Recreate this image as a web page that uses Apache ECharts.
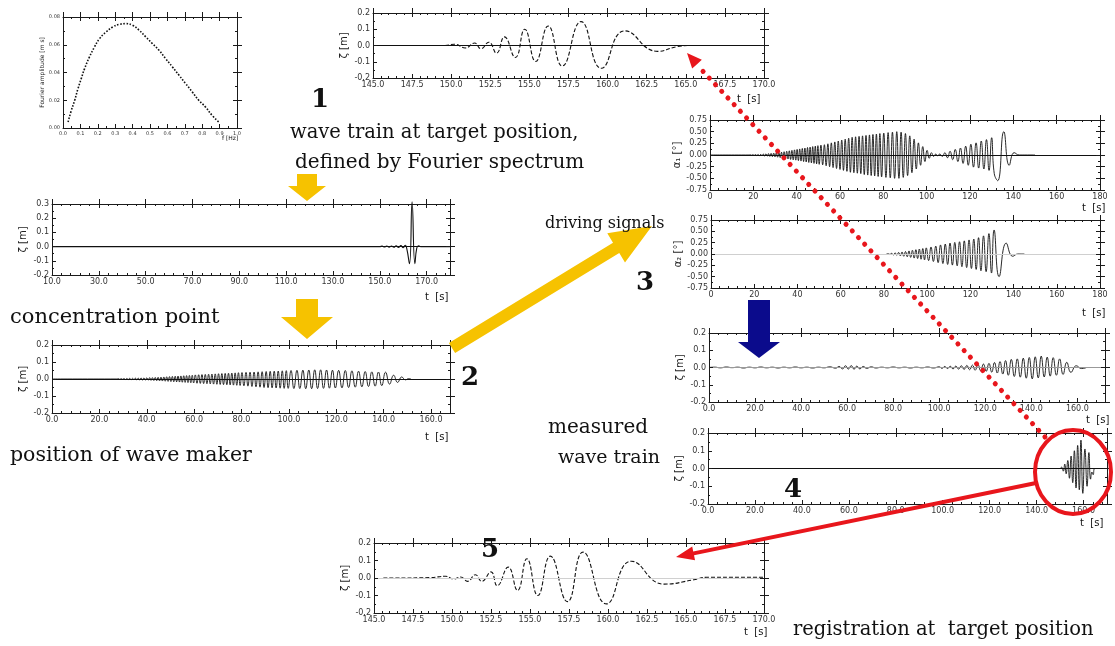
<!DOCTYPE html>
<html>
<head>
<meta charset="utf-8">
<script src="https://cdn.jsdelivr.net/npm/echarts@6/dist/echarts.min.js"></script>
<style>
  html, body { margin: 0; background: #fff; }
  #chart { width: 1115px; height: 646px; }
</style>
</head>
<body>
<div id="chart"></div>
<script>
// ---- data ----
// Fourier spectrum (top left), frequency vs amplitude
const specFreq = [0.029, 0.048, 0.067, 0.086, 0.105, 0.124, 0.152, 0.181, 0.210, 0.248, 0.286, 0.324, 0.362, 0.400,
  0.438, 0.476, 0.514, 0.552, 0.590, 0.629, 0.667, 0.705, 0.743, 0.781, 0.819, 0.857, 0.895];
const specAmp = [0.0043, 0.0127, 0.0199, 0.0283, 0.0356, 0.0428, 0.0512, 0.0584, 0.0644, 0.0692, 0.0728, 0.0747, 0.0752, 0.0740,
  0.0704, 0.0656, 0.0608, 0.0560, 0.0500, 0.0440, 0.0380, 0.0320, 0.0260, 0.0199, 0.0151, 0.0091, 0.0043];

// 1: wave train at target position [t, zeta]
const waveTarget = [[145.0, 0], [149.6, 0], [150.2, 0.008], [150.9, -0.015], [151.5, 0.015], [151.9, -0.02], [152.4, 0.02],
  [152.9, -0.047], [153.4, 0.053], [154.1, -0.074], [154.7, 0.1], [155.4, -0.098], [156.2, 0.12], [157.1, -0.126],
  [158.3, 0.147], [159.6, -0.14], [161.1, 0.09], [163.2, -0.036], [164.4, -0.008], [165.2, 0]];

// concentration point
const waveConc = [[10, 0], [150, 0], [151, 0.003], [152, -0.003], [153, 0.004], [154, -0.004], [155, 0.004], [156, -0.005],
  [157, 0.005], [158, -0.006], [159, 0.007], [160, -0.008], [160.9, 0.01], [161.6, -0.02], [162.7, -0.12], [163.8, 0.315],
  [165.0, -0.12], [165.8, -0.01], [166.6, 0.006], [167.5, 0], [180, 0]];

// 2: position of wave maker
const waveMaker = [[0, 0], [27.4, 0],
  [28.0, 0.002], [28.6, -0.002], [29.2, 0.002], [29.8, -0.002], [30.4, 0.003], [31.0, -0.003], [31.6, 0.003], [32.2, -0.003],
  [32.8, 0.004], [33.4, -0.004], [34.0, 0.004], [34.6, -0.004], [35.2, 0.005], [35.8, -0.005], [36.4, 0.005], [37.0, -0.005],
  [37.6, 0.006], [38.2, -0.006], [38.8, 0.006], [39.4, -0.006], [40.0, 0.007], [40.6, -0.007], [41.2, 0.008], [41.8, -0.008],
  [42.4, 0.008], [43.0, -0.009], [43.6, 0.009], [44.2, -0.01], [44.8, 0.01], [45.4, -0.011], [46.0, 0.011], [46.6, -0.012],
  [47.2, 0.012], [47.8, -0.013], [48.4, 0.013], [49.0, -0.014], [49.6, 0.014], [50.2, -0.015], [50.8, 0.015], [51.4, -0.016],
  [52.0, 0.016], [52.6, -0.017], [53.2, 0.017], [53.8, -0.018], [54.4, 0.018], [55.0, -0.019], [55.6, 0.019], [56.2, -0.02],
  [56.8, 0.02], [57.4, -0.021], [58.0, 0.021], [58.6, -0.022], [59.2, 0.022], [59.8, -0.023],
  [60.5, 0.024], [61.2, -0.025], [61.9, 0.025], [62.6, -0.026], [63.3, 0.026], [64.0, -0.027], [64.7, 0.027], [65.4, -0.028],
  [66.1, 0.028], [66.8, -0.029], [67.5, 0.029], [68.2, -0.03], [68.9, 0.03], [69.6, -0.031], [70.3, 0.031], [71.0, -0.032],
  [71.7, 0.032], [72.4, -0.033], [73.1, 0.033], [73.8, -0.034], [74.5, 0.034], [75.2, -0.035], [75.9, 0.035], [76.6, -0.036],
  [77.3, 0.036], [78.0, -0.037], [78.7, 0.037], [79.4, -0.038],
  [80.2, 0.038], [81.0, -0.04], [81.9, 0.039], [82.7, -0.042], [83.6, 0.04], [84.4, -0.044], [85.3, 0.041], [86.1, -0.046],
  [87.0, 0.042], [87.8, -0.048], [88.7, 0.043], [89.5, -0.05], [90.4, 0.044], [91.2, -0.051], [92.1, 0.045], [92.9, -0.052],
  [93.8, 0.046], [94.6, -0.053], [95.5, 0.047], [96.3, -0.054], [97.2, 0.048], [98.0, -0.055], [98.9, 0.049], [99.7, -0.055],
  [100.9, 0.05], [102.1, -0.056], [103.4, 0.051], [104.6, -0.056], [105.9, 0.052], [107.1, -0.057], [108.4, 0.053],
  [109.6, -0.057], [110.9, 0.054], [112.1, -0.056], [113.4, 0.054], [114.6, -0.055], [115.9, 0.053], [117.1, -0.054],
  [118.4, 0.052], [119.6, -0.053],
  [121.0, 0.051], [122.4, -0.052], [123.8, 0.05], [125.2, -0.05], [126.6, 0.048], [128.0, -0.048], [129.4, 0.046],
  [130.8, -0.046], [132.2, 0.044], [133.6, -0.044], [135.0, 0.042], [136.4, -0.042], [137.8, 0.041], [139.2, -0.039],
  [140.8, 0.04], [142.5, -0.03], [144.2, 0.022], [145.9, -0.02], [147.6, 0.012], [149.2, -0.005], [150.5, 0.002], [151.5, 0]];

// 3: driving signals, flap 1 [t, alpha1]
const driveFlap1 = [[0, 0], [18, 0],
  [18.6, 0.005], [19.2, -0.005], [19.8, 0.008], [20.4, -0.008], [21.0, 0.01], [21.6, -0.01], [22.2, 0.013], [22.8, -0.013],
  [23.4, 0.016], [24.0, -0.016], [24.6, 0.02], [25.2, -0.02], [25.8, 0.025], [26.4, -0.025], [27.0, 0.03], [27.6, -0.03],
  [28.2, 0.035], [28.8, -0.035], [29.4, 0.04], [30.0, -0.04], [30.6, 0.045], [31.2, -0.047], [31.8, 0.05], [32.4, -0.055],
  [33.0, 0.06], [33.6, -0.065], [34.2, 0.07], [34.8, -0.075], [35.4, 0.08], [36.0, -0.085], [36.6, 0.09], [37.2, -0.095],
  [37.8, 0.1], [38.4, -0.105], [39.0, 0.11], [39.6, -0.11], [40.2, 0.12], [40.8, -0.12], [41.4, 0.13], [42.0, -0.13],
  [42.6, 0.14], [43.2, -0.14], [43.8, 0.15], [44.4, -0.15], [45.0, 0.16], [45.6, -0.16], [46.2, 0.17], [46.8, -0.17],
  [47.4, 0.18], [48.0, -0.18], [48.6, 0.19], [49.2, -0.19], [49.8, 0.2], [50.4, -0.2],
  [51.2, 0.21], [52.0, -0.21], [52.8, 0.22], [53.6, -0.23], [54.4, 0.24], [55.2, -0.25], [56.0, 0.26], [56.8, -0.27],
  [57.6, 0.28], [58.4, -0.29], [59.2, 0.3], [60.0, -0.31], [60.8, 0.32], [61.6, -0.33], [62.4, 0.34], [63.2, -0.35],
  [64.0, 0.36], [64.8, -0.37], [65.6, 0.38], [66.4, -0.38], [67.2, 0.39], [68.0, -0.39], [68.8, 0.4], [69.6, -0.4],
  [70.4, 0.41], [71.2, -0.42], [72.0, 0.42], [72.8, -0.43], [73.6, 0.43], [74.4, -0.44], [75.2, 0.44], [76.0, -0.45],
  [76.8, 0.45], [77.6, -0.46], [78.4, 0.46], [79.2, -0.47],
  [80.2, 0.47], [81.2, -0.48], [82.2, 0.48], [83.2, -0.49], [84.2, 0.49], [85.2, -0.5], [86.2, 0.5], [87.2, -0.5],
  [88.2, 0.49], [89.2, -0.48], [90.2, 0.46], [91.2, -0.44], [92.2, 0.41], [93.2, -0.38], [94.2, 0.34], [95.2, -0.3],
  [96.2, 0.26], [97.2, -0.22], [98.2, 0.18], [99.2, -0.14], [100.2, 0.1], [101.2, -0.07], [102.2, 0.05], [103.2, -0.03],
  [104.2, 0.02], [105.0, -0.015],
  [106.0, 0.02], [107.2, -0.03], [108.4, 0.05], [109.6, -0.06], [110.8, 0.08], [112.0, -0.1], [113.2, 0.12], [114.4, -0.14],
  [115.6, 0.15], [116.8, -0.18], [118.0, 0.19], [119.2, -0.22], [120.4, 0.23], [121.6, -0.26], [122.8, 0.26], [124.0, -0.28],
  [125.2, 0.3], [126.4, -0.3], [127.6, 0.33], [128.8, -0.33], [130.0, 0.37], [131.2, -0.4], [132.8, -0.55], [135.6, 0.5],
  [138.1, -0.22], [140.4, 0.05], [142.7, 0], [150, 0]];

// 3: driving signals, flap 2 [t, alpha2]
const driveFlap2 = [[81.2, 0],
  [82.0, 0.005], [82.8, -0.01], [83.6, 0.015], [84.4, -0.02], [85.2, 0.025], [86.0, -0.03], [86.8, 0.035], [87.6, -0.04],
  [88.4, 0.045], [89.2, -0.05], [90.0, 0.055], [90.8, -0.06], [91.6, 0.068], [92.4, -0.075], [93.2, 0.082], [94.0, -0.09],
  [94.8, 0.095], [95.6, -0.1], [96.4, 0.11], [97.2, -0.115], [98.0, 0.12], [98.8, -0.13], [99.6, 0.135],
  [100.7, -0.145], [101.8, 0.155], [102.9, -0.165], [104.0, 0.175], [105.1, -0.19], [106.2, 0.2], [107.3, -0.21],
  [108.4, 0.22], [109.5, -0.23], [110.6, 0.24], [111.7, -0.245], [112.8, 0.255], [113.9, -0.26], [115.0, 0.27],
  [116.1, -0.28], [117.2, 0.29], [118.3, -0.3], [119.4, 0.31], [120.5, -0.32], [121.6, 0.33], [122.7, -0.34],
  [123.8, 0.36], [124.9, -0.37], [126.1, 0.4], [127.3, -0.39], [128.6, 0.45], [129.8, -0.42], [131.0, 0.53],
  [133.3, -0.5], [136.6, 0.24], [139.6, -0.05], [142.0, 0], [145.0, 0]];

// 4: measured wave train near the wave maker [t, zeta]
const measuredGauge = [[0.0, 0], [2.5, 0.002], [5, -0.002], [7.5, 0.003], [10, -0.001], [12.5, 0.002], [15, -0.003],
  [17.5, 0.002], [20, -0.002], [22.5, 0.003], [25, -0.002], [27.5, 0.002], [30, -0.003], [32.5, 0.002], [35, -0.002],
  [37.5, 0.003], [40, -0.002], [42.5, 0.002], [45, -0.003], [47.5, 0.002], [50, -0.002], [52.5, 0.004], [55, -0.004],
  [56.5, 0.006], [58, -0.008], [59.3, 0.01], [60.5, -0.009], [61.8, 0.011], [63, -0.01], [64.2, 0.008], [65.5, -0.008],
  [67, 0.006], [68.5, -0.005], [70.5, 0.004], [72.5, -0.003], [75, 0.002], [77.5, -0.002], [80, 0.003], [82.5, -0.002],
  [85, 0.002], [87.5, -0.003], [90, 0.002], [92.5, -0.002], [95, 0.003], [97.5, -0.003], [100, 0.004], [101.2, -0.005],
  [102.4, 0.006], [103.6, -0.006], [104.8, 0.007], [106, -0.008], [107.2, 0.008], [108.4, -0.009], [109.6, 0.01],
  [110.8, -0.011], [112, 0.012], [113.2, -0.013], [114.4, 0.014], [115.6, -0.016], [116.8, 0.017], [118, -0.019],
  [119.2, 0.02], [120.4, -0.022], [121.6, 0.024], [122.8, -0.027], [124, 0.029], [125.2, -0.032], [126.4, 0.034],
  [127.6, -0.038], [128.8, 0.04], [130, -0.045], [131.3, 0.047], [132.6, -0.052], [133.9, 0.05], [135.2, -0.056],
  [136.5, 0.054], [137.8, -0.062], [139.1, 0.058], [140.4, -0.066], [141.7, 0.062], [143, -0.06], [144.3, 0.066],
  [145.6, -0.055], [146.9, 0.06], [148.2, -0.05], [149.5, 0.057], [150.9, -0.045], [152.3, 0.05], [153.8, -0.04],
  [155.4, 0.03], [157.2, -0.028], [159.5, 0.01], [161.8, -0.006], [164, 0]];

// 4: measured wave train at target position
const measuredTarget = [[0, 0], [150, 0], [150.7, 0.008], [151.4, -0.015], [152.0, 0.025], [152.6, -0.03], [153.3, 0.045],
  [154.0, -0.055], [154.7, 0.07], [155.4, -0.08], [156.1, 0.1], [156.8, -0.11], [157.5, 0.13], [158.2, -0.12],
  [158.9, 0.16], [159.7, -0.14], [160.6, 0.11], [161.5, -0.1], [162.3, 0.09], [163.0, -0.06], [163.6, -0.02],
  [164.1, -0.035], [164.8, 0], [170, 0]];

// 5: registration at target position
const registeredTarget = [[145.6, 0], [146.4, 0], [148.6, 0.002], [149.6, 0.01], [150.1, -0.006], [150.55, 0.006],
  [151.0, -0.019], [151.5, 0.019], [151.9, -0.019], [152.5, 0.035], [152.9, -0.044], [153.6, 0.062], [154.2, -0.071],
  [154.8, 0.11], [155.5, -0.1], [156.3, 0.125], [157.4, -0.135], [158.4, 0.148], [159.9, -0.148], [161.5, 0.096],
  [163.6, -0.035], [165.5, -0.01], [166.3, 0.004], [170, 0.004]];

const spectrum = specFreq.map((f, i) => [f, specAmp[i]]);

// ---- panel layout ----
const panels = [
  { data: spectrum, box: [63, 17, 174, 111], x: [0, 1, 0.1], xDec: 1, y: [0, 0.08, 0.02], yDec: 2, lab: 5,
    yName: 'Fourier amplitude [m s]', nameSize: 6, nameGap: 18, dotted: true, zero: null, xMinor: 2 },
  { data: waveTarget, box: [373, 13, 391, 65], x: [145, 170, 2.5], xDec: 1, y: [-0.2, 0.2, 0.1], yDec: 1,
    yName: 'ζ [m]', dashed: true, zero: '#111' },
  { data: waveConc, box: [52, 204, 398, 71], x: [10, 180, 20], xDec: 1, y: [-0.2, 0.3, 0.1], yDec: 1, hideMax: true,
    yName: 'ζ [m]', zero: '#111' },
  { data: waveMaker, box: [52, 345, 398, 68], x: [0, 168, 20], xDec: 1, y: [-0.2, 0.2, 0.1], yDec: 1, hideMax: true,
    yName: 'ζ [m]', zero: '#111', thin: true },
  { data: driveFlap1, box: [710, 120, 390, 70], x: [0, 180, 20], xDec: 0, y: [-0.75, 0.75, 0.25], yDec: 2,
    yName: 'α₁ [°]', zero: '#111', thin: true },
  { data: driveFlap2, box: [711, 220, 389, 68], x: [0, 180, 20], xDec: 0, y: [-0.75, 0.75, 0.25], yDec: 2,
    yName: 'α₂ [°]', zero: '#cfcfcf', thin: true },
  { data: measuredGauge, box: [709, 333, 396, 69], x: [0, 172, 20], xDec: 1, y: [-0.2, 0.2, 0.1], yDec: 1, hideMax: true,
    yName: 'ζ [m]', zero: '#999', thin: true },
  { data: measuredTarget, box: [708, 433, 399, 71], x: [0, 170, 20], xDec: 1, y: [-0.2, 0.2, 0.1], yDec: 1, hideMax: true,
    yName: 'ζ [m]', zero: '#111', thin: true },
  { data: registeredTarget, box: [374, 543, 390, 70], x: [145, 170, 2.5], xDec: 1, y: [-0.2, 0.2, 0.1], yDec: 1,
    yName: 'ζ [m]', dashed: true, zero: '#d0d0d0' }
];

const INK = '#1a1a1a';
const N = panels.length;
const grid = [], xAxis = [], yAxis = [], series = [];

const tick = () => ({ show: true, inside: true, length: 4 });
const minor = n => ({ show: true, splitNumber: n, length: 2 });
const frame = () => ({ show: true, onZero: false, lineStyle: { color: INK } });
const labelStyle = p => ({ fontSize: p.lab || 8, color: '#333', fontFamily: 'DejaVu Sans', margin: 3 });

panels.forEach(p => {
  grid.push({ left: p.box[0], top: p.box[1], width: p.box[2], height: p.box[3] });
});

panels.forEach((p, i) => {
  xAxis.push({ type: 'value', gridIndex: i, position: 'bottom', min: p.x[0], max: p.x[1], interval: p.x[2],
    axisLine: frame(), splitLine: { show: false }, axisTick: tick(), minorTick: minor(p.xMinor || 5),
    axisLabel: Object.assign(labelStyle(p), { showMaxLabel: !p.hideMax, formatter: v => v.toFixed(p.xDec) }) });
  yAxis.push({ type: 'value', gridIndex: i, position: 'left', min: p.y[0], max: p.y[1], interval: p.y[2],
    axisLine: frame(), splitLine: { show: false }, axisTick: tick(), minorTick: minor(2),
    name: p.yName, nameLocation: 'middle', nameGap: p.nameGap || 24,
    nameTextStyle: { fontSize: p.nameSize || 10, color: '#222', fontFamily: 'DejaVu Sans' },
    axisLabel: Object.assign(labelStyle(p), { formatter: v => v.toFixed(p.yDec) }) });
});
panels.forEach((p, i) => {
  xAxis.push({ type: 'value', gridIndex: i, position: 'top', min: p.x[0], max: p.x[1], interval: p.x[2],
    axisLine: frame(), splitLine: { show: false }, axisLabel: { show: false } });
  yAxis.push({ type: 'value', gridIndex: i, position: 'right', min: p.y[0], max: p.y[1], interval: p.y[2],
    axisLine: frame(), splitLine: { show: false }, axisLabel: { show: false } });
});

// inward tick marks on all four frame edges, placed in data space on the panel's own axes
function frameTicks(p) {
  const x0 = p.x[0], x1 = p.x[1], y0 = p.y[0], y1 = p.y[1];
  const w = p.box[2], h = p.box[3];
  const xm = p.xMinor || 5, ym = 2;
  const xStep = p.x[2] / xm, yStep = p.y[2] / ym;
  const out = [];
  const nX = Math.floor((x1 - x0) / xStep + 1e-6);
  for (let k = 1; k <= nX; k++) {
    const v = x0 + k * xStep;
    if (v >= x1 - 1e-9) continue;
    const L = (k % xm === 0 ? 4 : 2) * (y1 - y0) / h;
    out.push([{ coord: [v, y0] }, { coord: [v, y0 + L] }]);
    out.push([{ coord: [v, y1] }, { coord: [v, y1 - L] }]);
  }
  const nY = Math.floor((y1 - y0) / yStep + 1e-6);
  for (let k = 1; k <= nY; k++) {
    const v = y0 + k * yStep;
    if (v >= y1 - 1e-9) continue;
    const L = (k % ym === 0 ? 4 : 2) * (x1 - x0) / w;
    out.push([{ coord: [x0, v] }, { coord: [x0 + L, v] }]);
    out.push([{ coord: [x1, v] }, { coord: [x1 - L, v] }]);
  }
  return out;
}

panels.forEach((p, i) => {
  const marks = frameTicks(p);
  if (p.zero) marks.unshift({ yAxis: 0, lineStyle: { color: p.zero, width: 1.2, type: 'solid' } });
  series.push({
    type: 'line', xAxisIndex: i, yAxisIndex: i, data: p.data, showSymbol: false,
    smooth: 0.5, clip: false,
    lineStyle: { color: '#111', width: p.dotted ? 1.6 : (p.thin ? 0.9 : 1.1),
      type: p.dotted ? 'dotted' : (p.dashed ? [4, 2] : 'solid') },
    markLine: { silent: true, symbol: 'none', label: { show: false },
      lineStyle: { color: INK, width: 1, type: 'solid' }, data: marks }
  });
  series.push({ type: 'line', xAxisIndex: N + i, yAxisIndex: N + i, data: [], silent: true });
});

// ---- annotations ----
function arrowPts(x1, y1, x2, y2, sw, hw, hl) {
  const L = Math.hypot(x2 - x1, y2 - y1), ux = (x2 - x1) / L, uy = (y2 - y1) / L, nx = -uy, ny = ux;
  const bx = x2 - ux * hl, by = y2 - uy * hl;
  return [[x1 + nx * sw / 2, y1 + ny * sw / 2], [bx + nx * sw / 2, by + ny * sw / 2], [bx + nx * hw / 2, by + ny * hw / 2],
    [x2, y2], [bx - nx * hw / 2, by - ny * hw / 2], [bx - nx * sw / 2, by - ny * sw / 2], [x1 - nx * sw / 2, y1 - ny * sw / 2]];
}
const YELLOW = '#f6c200', RED = '#e8161c', BLUE = '#0b0b8c';
const serif = '"DejaVu Serif", "Liberation Serif", serif';

function txt(text, x, y, size, opts) {
  opts = opts || {};
  return { type: 'text', x: x, y: y, z: 120, silent: true,
    style: { text: text, fill: '#111', font: (opts.bold ? 'bold ' : '') + size + 'px ' + (opts.family || serif),
      textAlign: opts.align || 'left', textVerticalAlign: 'middle' } };
}

const graphic = [
  { type: 'polygon', z: 90, shape: { points: arrowPts(307, 174, 307, 201, 20, 38, 15) }, style: { fill: YELLOW } },
  { type: 'polygon', z: 90, shape: { points: arrowPts(307, 299, 307, 339, 22, 52, 22) }, style: { fill: YELLOW } },
  { type: 'polygon', z: 90, shape: { points: arrowPts(452, 348, 652, 226, 12, 34, 42) }, style: { fill: YELLOW } },
  { type: 'polygon', z: 90, shape: { points: arrowPts(759, 300, 759, 358, 22, 42, 16) }, style: { fill: BLUE } },
  { type: 'line', z: 110, shape: { x1: 1045, y1: 437, x2: 698, y2: 66 },
    style: { stroke: RED, lineWidth: 5, lineDash: [0.1, 9], lineCap: 'round' } },
  { type: 'polygon', z: 110, shape: { points: arrowPts(704, 72, 687, 53, 0, 13, 15) }, style: { fill: RED } },
  { type: 'ellipse', z: 110, shape: { cx: 1073, cy: 472, rx: 38, ry: 42 },
    style: { fill: 'none', stroke: RED, lineWidth: 4 } },
  { type: 'polygon', z: 110, shape: { points: arrowPts(1036, 483, 676, 557, 4, 14, 18) }, style: { fill: RED } },

  txt('1', 320, 100, 26, { bold: true, align: 'center' }),
  txt('wave train at target position,', 290, 133, 19.5),
  txt('defined by Fourier spectrum', 295, 163, 20),
  txt('concentration point', 10, 318, 21),
  txt('position of wave maker', 10, 456, 20.5),
  txt('2', 470, 378, 26, { bold: true, align: 'center' }),
  txt('driving signals', 545, 224, 16),
  txt('3', 645, 283, 26, { bold: true, align: 'center' }),
  txt('measured', 548, 428, 20),
  txt('wave train', 558, 458, 19),
  txt('4', 793, 490, 26, { bold: true, align: 'center' }),
  txt('5', 490, 550, 26, { bold: true, align: 'center' }),
  txt('registration at  target position', 793, 630, 19.5),

  txt('f [Hz]', 222, 138, 6, { family: 'DejaVu Sans' }),
  txt('t  [s]', 737, 99, 10, { family: 'DejaVu Sans' }),
  txt('t  [s]', 425, 297, 10, { family: 'DejaVu Sans' }),
  txt('t  [s]', 425, 437, 10, { family: 'DejaVu Sans' }),
  txt('t  [s]', 1082, 208, 10, { family: 'DejaVu Sans' }),
  txt('t  [s]', 1082, 313, 10, { family: 'DejaVu Sans' }),
  txt('t  [s]', 1086, 420, 10, { family: 'DejaVu Sans' }),
  txt('t  [s]', 1080, 523, 10, { family: 'DejaVu Sans' }),
  txt('t  [s]', 744, 632, 10, { family: 'DejaVu Sans' })
];

const chart = echarts.init(document.getElementById('chart'));
chart.setOption({
  animation: false,
  grid: grid,
  xAxis: xAxis,
  yAxis: yAxis,
  series: series,
  graphic: graphic
});
</script>
</body>
</html>
